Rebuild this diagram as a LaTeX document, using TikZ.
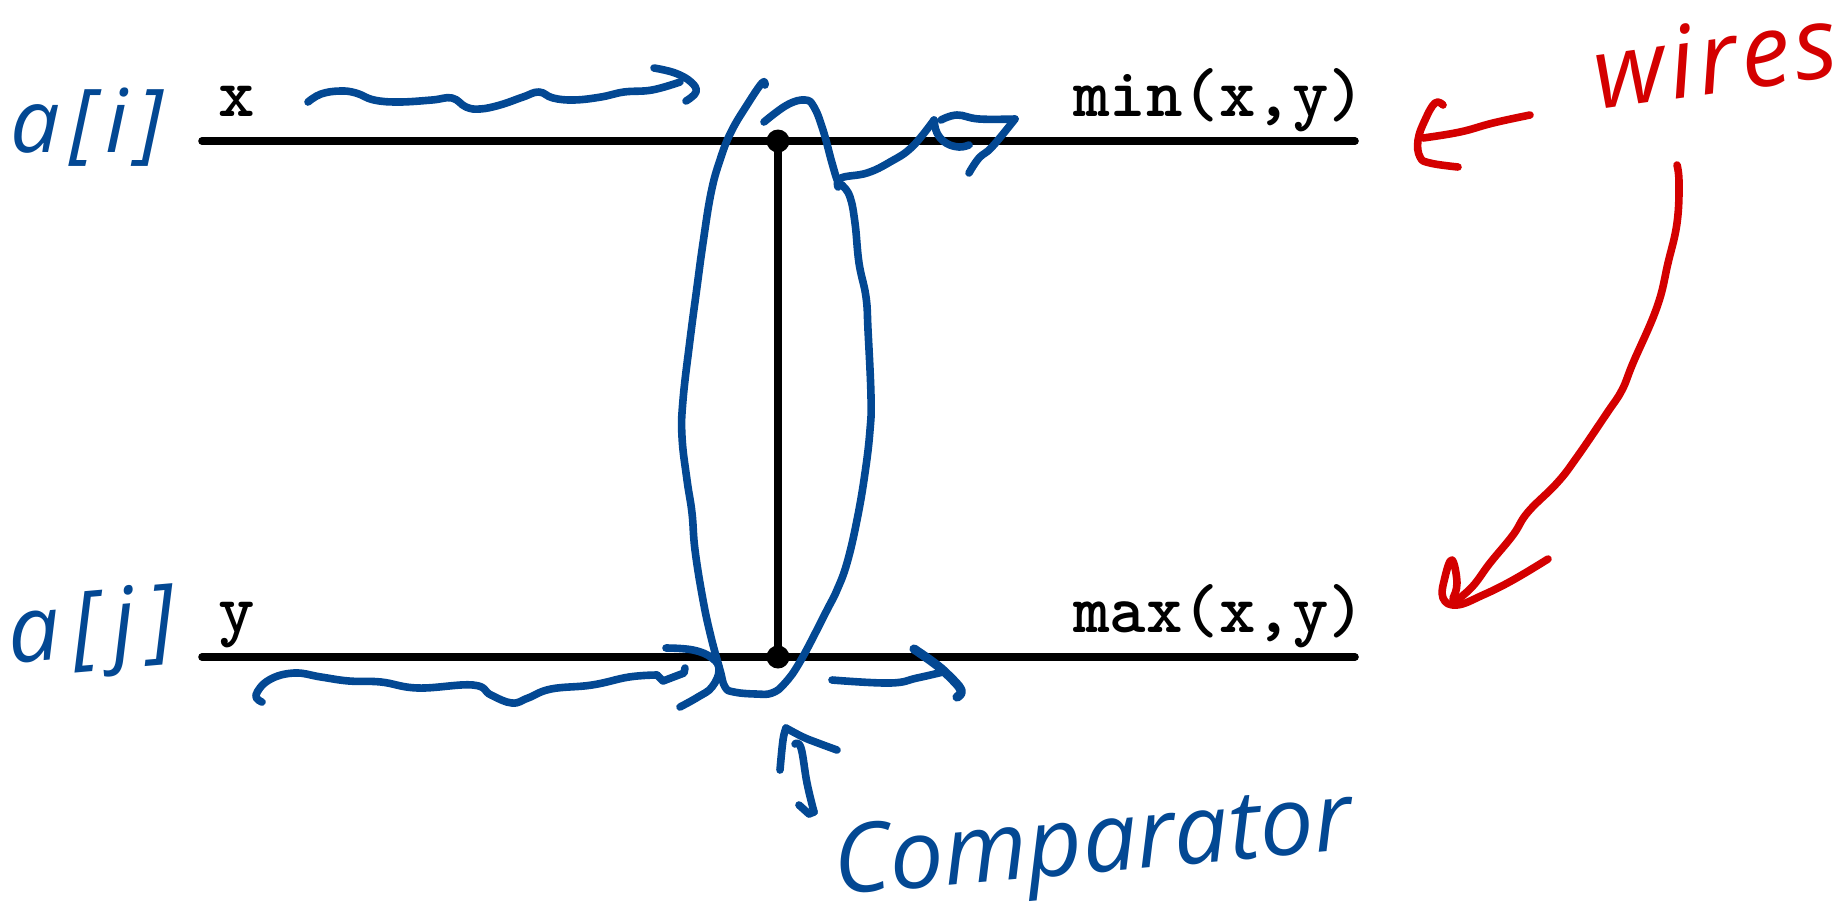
\documentclass[tikz,border=0pt]{standalone}
\usepackage{fontspec}
\newfontfamily\handfont{Open Sans}[ItalicFont=* Italic]
\definecolor{inkblue}{RGB}{3,72,147}
\definecolor{inkred}{RGB}{212,0,0}
\tikzset{
  wire/.style={line width=3.8pt,black,line cap=round},
  dotnode/.style={circle,fill=black,inner sep=0pt,minimum size=11.5pt},
  mono/.style={inner sep=0pt,anchor=base west,font=\fontsize{34.7}{36}\selectfont\ttfamily\bfseries},
  inkb/.style={line width=3.8pt,inkblue,line cap=round,line join=round},
  inkr/.style={line width=3.8pt,inkred,line cap=round,line join=round},
  handb/.style={inner sep=0pt,anchor=base west,text=inkblue},
  handr/.style={inner sep=0pt,anchor=base west,text=inkred},
  soft/.style={smooth,tension=0.7},
}
\begin{document}
\begin{tikzpicture}[x=0.5pt,y=-0.5pt]
\useasboundingbox[fill=white] (0,0) rectangle (1845,911);
% wires
\coordinate (tl) at (202,141);
\coordinate (tr) at (1355,141);
\coordinate (bl) at (202,657);
\coordinate (br) at (1355,657);
\node[dotnode] (da) at (778,141) {};
\node[dotnode] (db) at (778,657) {};
\draw[wire] (tl) -- (da.center) -- (tr);
\draw[wire] (bl) -- (db.center) -- (br);
\draw[wire] (da.center) -- (db.center);
% printed labels
\node[mono] (lx) at (218,116) {x};
\node[mono] (ly) at (218,632) {y};
\node[mono] (lmin) at (1073,116) {min(x,y)};
\node[mono] (lmax) at (1073,632) {max(x,y)};
% handwritten labels
\node[handb,font=\fontsize{44}{48}\selectfont\handfont\itshape\addfontfeature{LetterSpace=11}] (ai) at (10,152) {a[i]};
\node[handb,rotate=5,font=\fontsize{46}{50}\selectfont\handfont\itshape\addfontfeature{LetterSpace=14}] (aj) at (10,664) {a[j]};
\node[handr,rotate=8,font=\fontsize{50}{54}\selectfont\handfont\itshape\addfontfeature{LetterSpace=4}] (lw) at (1598,110) {wires};
\node[handb,rotate=5,font=\fontsize{48}{52}\selectfont\handfont\itshape] (lc) at (836,895) {Comparator};
% top wavy arrow
\draw[inkb] plot[soft] coordinates {(308,102)(321,94)(340,91)(356,93)(374,100)(399,102)(432,100)(452,98)(466,107)(480,109)(500,105)(523,97)(539,92)(553,98)(574,100)(601,97)(624,92)(652,90)(680,82)};
\draw[inkb] plot[soft] coordinates {(654,68)(675,73)(691,82)(696,92)(686,101)};
% comparator loop
\draw[inkb] plot[soft] coordinates {(765,85)(762,83)(747,105)(731,132)(720,160)(711,193)(703,243)(697,287)(690,340)(683,400)(682,437)(687,480)(692,513)(695,550)(703,600)(711,637)(720,670)(725,687)(734,692)(756,694)(772,693)(785,683)(801,660)(827,610)(837,590)(847,563)(857,520)(865,473)(870,430)(871,397)(868,330)(866,297)(859,263)(855,223)(850,197)(842,185)(838,182)(832,163)(823,130)(814,107)(805,100)(787,105)(764,122)};
% top right arrow
\draw[inkb] plot[soft] coordinates {(838,187)(841,178)(867,173)(890,162)(912,147)(934,120)};
\draw[inkb] plot[soft] coordinates {(934,120)(937,133)(946,143)(959,147)(969,145)};
\draw[inkb] plot[soft] coordinates {(941,120)(957,115)(979,119)(1015,119)};
\draw[inkb] plot[soft] coordinates {(1015,119)(992,147)(979,158)(969,173)};
% bottom wavy arrow
\draw[inkb] plot[soft] coordinates {(262,702)(256,695)(269,680)(294,673)(321,677)(349,681)(381,682)(418,688)(473,685)(491,695)(512,703)(528,698)(551,689)(592,685)(629,677)(657,675)};
\draw[inkb] (657,675) -- (663,681) -- (684,673) -- (685,668);
\draw[inkb] plot[soft] coordinates {(666,648)(693,650)(712,658)(719,670)(712,687)(698,697)(680,707)};
% bottom right arrow
\draw[inkb] plot[soft] coordinates {(832,680)(890,683)(917,678)(943,672)};
\draw[inkb,line width=4.6pt] plot[soft] coordinates {(914,649)(934,663)(948,675)(961,690)(957,697)};
% comparator pointer
\draw[inkb] plot[soft] coordinates {(780,770)(783,740)(786,728)};
\draw[inkb] plot[soft] coordinates {(786,728)(803,737)(818,743)(837,750)};
\draw[inkb] plot[soft] coordinates {(795,744)(801,748)(807,783)(814,812)};
\draw[inkb] (814,812) -- (809,814) -- (799,805);
% red arrow to top wire
\draw[inkr] plot[soft] coordinates {(1530,115)(1493,123)(1460,132)(1423,138)};
\draw[inkr] plot[soft] coordinates {(1443,105)(1435,103)(1425,120)(1418,140)(1420,157)(1430,163)(1458,167)};
% red arrow to bottom wire
\draw[inkr] plot[soft] coordinates {(1677,165)(1679,183)(1677,223)(1668,263)(1657,307)(1633,363)(1622,390)(1607,413)(1577,457)(1557,483)(1528,512)(1513,535)(1490,563)(1472,587)(1453,603)};
\draw[inkr] plot[soft] coordinates {(1548,559)(1513,580)(1483,595)(1457,605)(1443,598)(1445,577)(1452,560)(1457,583)(1453,598)};
\end{tikzpicture}
\end{document}
